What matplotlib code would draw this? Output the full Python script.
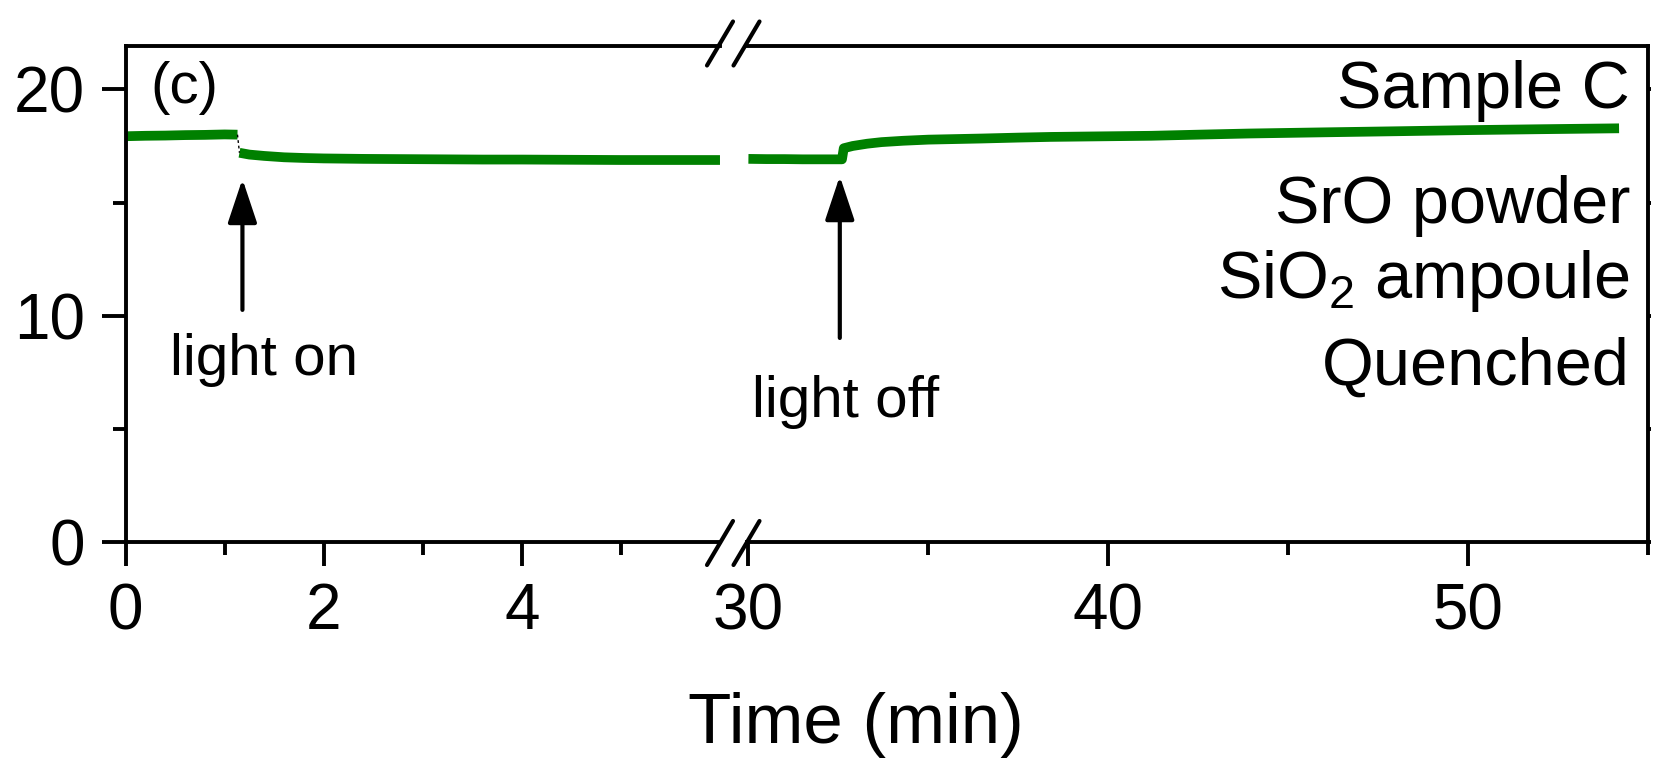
import matplotlib
matplotlib.use("Agg")
import matplotlib.pyplot as plt
from matplotlib.lines import Line2D

plt.rcParams['font.family'] = ['Liberation Sans', 'DejaVu Sans']
plt.rcParams['mathtext.fontset'] = 'custom'
plt.rcParams['mathtext.rm'] = 'Liberation Sans'
plt.rcParams['mathtext.it'] = 'Liberation Sans:italic'

# 數據
t_dark = [0.0, 0.2, 0.4, 0.6, 0.8, 1.0, 1.13]
v_dark = [17.93, 17.95, 17.96, 17.98, 17.99, 18.01, 18.0]

t_light = [1.15, 1.25, 1.4, 1.6, 1.8, 2.0, 2.4, 2.8, 3.2, 3.6, 4.0, 4.5, 5.0, 5.5, 6.0]
v_light = [17.2, 17.12, 17.06, 17.0, 16.97, 16.95, 16.93, 16.92, 16.91, 16.9, 16.9,
           16.89, 16.88, 16.88, 16.88]

t_late = [30.0, 30.5, 31.0, 31.5, 32.0, 32.6, 32.65, 32.9, 33.3, 33.7, 34.3, 35.0,
          35.6, 36.5, 37.5, 38.4, 39.5, 41.2, 42.5, 43.9, 45.9, 48.0, 50.0, 52.0, 54.2]
v_late = [16.93, 16.92, 16.92, 16.91, 16.91, 16.91, 17.4, 17.5, 17.6, 17.67, 17.73, 17.78,
          17.8, 17.83, 17.87, 17.9, 17.92, 17.95, 18.0, 18.05, 18.1, 18.15, 18.2, 18.24, 18.28]

# 註記
light_on_t, light_off_t = 1.18, 32.54
sample_lines = ["Sample C", "SrO powder", "SiO$_2$ ampoule", "Quenched"]

green = "#008000"
lw_axis = 2.8

fig = plt.figure(figsize=(16.67, 7.6), dpi=100)
ax1 = fig.add_axes([0.0753, 0.2866, 0.3566, 0.6533])
ax2 = fig.add_axes([0.4481, 0.2866, 0.5404, 0.6533])

for ax in (ax1, ax2):
    ax.set_ylim(0, 21.93)
    for s in ax.spines.values():
        s.set_linewidth(lw_axis)
    ax.tick_params(which='major', direction='out', length=17, width=lw_axis,
                   labelsize=46, pad=12)
    ax.tick_params(which='minor', direction='out', length=9.5, width=lw_axis)

ax1.set_xlim(0, 6.0)
ax1.set_xticks([0, 2, 4])
ax1.set_xticks([1, 3, 5], minor=True)
ax1.set_yticks([0, 10, 20])
ax1.set_yticks([5, 15], minor=True)
ax1.spines['right'].set_visible(False)

ax2.set_xlim(29.96, 55)
ax2.set_xticks([30, 40, 50])
ax2.set_xticks([35, 45, 55], minor=True)
ax2.set_yticks([0, 5, 10, 15, 20])
ax2.spines['left'].set_visible(False)
ax2.yaxis.set_ticks_position('right')
ax2.tick_params(axis='y', which='major', length=2.5, labelright=False)

# 綠色曲線
kw = dict(color=green, lw=7, solid_capstyle='butt')
ax1.plot(t_dark, v_dark, **kw)
ax1.plot(t_light, v_light, **kw)
ax1.plot([t_dark[-1], t_light[0]], [v_dark[-1], v_light[0]], color='black', lw=1, ls=(0, (2, 2)))
ax2.plot(t_late, v_late, **kw)

# 箭頭
arrow = dict(arrowstyle='-|>,head_length=1.5,head_width=0.5', mutation_scale=18,
             lw=3, color='black', shrinkA=0, shrinkB=0, capstyle='round')
ax1.annotate('', xy=(light_on_t, 16.04), xytext=(light_on_t, 10.26), arrowprops=arrow)
ax2.annotate('', xy=(light_off_t, 16.17), xytext=(light_off_t, 9.02), arrowprops=arrow)
ax1.text(1.40, 7.39, "light on", fontsize=42, ha='center', va='baseline')
ax2.text(32.71, 5.53, "light off", fontsize=42, ha='center', va='baseline')

# 文字
fig.text(0.09, 0.8645, "(c)", fontsize=42, ha='left', va='baseline')
for txt, yb in zip(sample_lines, [0.8579, 0.7066, 0.6079, 0.4934]):
    fig.text(0.9778, yb, txt, fontsize=48, ha='right', va='baseline')

fig.text(0.5135, 0.0224, "Time (min)", fontsize=51, ha='center', va='baseline')

# 斷軸符號
W, H = 1667.0, 760.0
for cx in (720, 746.5):
    for cy in (43.5, 543):
        fig.add_artist(Line2D([(cx - 13) / W, (cx + 13) / W],
                              [1 - (cy + 22) / H, 1 - (cy - 22) / H],
                              transform=fig.transFigure, color='black',
                              lw=3, solid_capstyle='round'))

fig.savefig("out.png", dpi=100)
